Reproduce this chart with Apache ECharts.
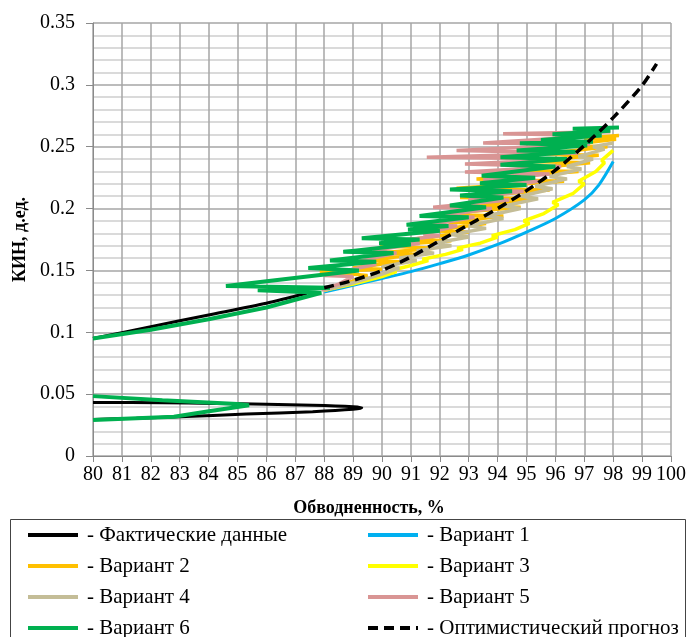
<!DOCTYPE html>
<html>
<head>
<meta charset="utf-8">
<script src="https://cdn.jsdelivr.net/npm/echarts@6/dist/echarts.min.js"></script>
<style>html,body{margin:0;padding:0;background:#fff}#c{width:689px;height:637px}</style>
</head>
<body>
<div id="c"></div>
<script>
// ---- Data ----
const xTicks = [80, 100, 1];            // min, max, step of water cut axis
const yTicks = [0, 0.35, 0.05];         // min, max, step of KIN axis

const actualX = [80, 82.4, 84.2, 86.0, 87.6, 89.0, 89.3, 89.0, 87.6, 85.3, 83.0, 81.5, 80, null, 80, 82, 84, 86, 87.4];
const actualY = [0.0433, 0.043, 0.0425, 0.0418, 0.041, 0.0398, 0.039, 0.0377, 0.0358, 0.0339, 0.0317, 0.0305, 0.0295, null, 0.095, 0.1045, 0.114, 0.1235, 0.1315];

const v1X = [88, 89, 90, 91, 92, 93, 94, 95, 96, 97, 97.5, 98];
const v1Y = [0.1325, 0.138, 0.1435, 0.149, 0.1555, 0.1625, 0.171, 0.181, 0.192, 0.207, 0.219, 0.238];

const v2X = [88.0, 88.6, 89.5, 87.85, 90.0, 89.0, 90.6, 89.5, 91.2, 89.9, 91.8, 89.93, 92.4, 91.0, 93.0, 91.66, 93.6, 92.3, 94.2, 91.9, 94.8, 93.2, 95.3, 92.7, 95.8, 92.58, 96.3, 93.27, 96.8, 94.5, 97.2, 95.0, 97.5, 95.5, 97.8, 96.2, 98.1, 97.0, 98.2];
const v2Y = [0.134, 0.138, 0.146, 0.149, 0.151, 0.152, 0.157, 0.158, 0.163, 0.164, 0.168, 0.170, 0.174, 0.175, 0.181, 0.182, 0.188, 0.189, 0.194, 0.1955, 0.201, 0.202, 0.208, 0.209, 0.215, 0.2165, 0.222, 0.224, 0.230, 0.231, 0.237, 0.238, 0.243, 0.244, 0.250, 0.251, 0.256, 0.257, 0.259];

const v3X = [88, 89, 90, 90.5, 90.3, 91, 91.6, 91.4, 92.2, 92.8, 92.6, 93.4, 94.0, 93.8, 94.6, 95.1, 94.9, 95.6, 96.1, 95.9, 96.6, 97.0, 96.8, 97.4, 97.7, 97.6, 98.0];
const v3Y = [0.134, 0.139, 0.145, 0.149, 0.150, 0.154, 0.158, 0.159, 0.163, 0.167, 0.168, 0.172, 0.177, 0.178, 0.183, 0.188, 0.190, 0.196, 0.203, 0.205, 0.212, 0.220, 0.222, 0.230, 0.237, 0.239, 0.247];

const v4X = [88, 89, 90, 90.6, 90.0, 91.2, 90.6, 91.8, 91.2, 92.4, 91.8, 93.0, 92.4, 93.6, 93.0, 94.2, 93.6, 94.8, 94.2, 95.4, 94.8, 95.9, 95.3, 96.4, 95.8, 96.9, 96.4, 97.3, 96.8, 97.7, 97.3, 98.0];
const v4Y = [0.134, 0.140, 0.147, 0.152, 0.153, 0.158, 0.160, 0.164, 0.166, 0.170, 0.172, 0.177, 0.179, 0.184, 0.186, 0.192, 0.194, 0.200, 0.202, 0.208, 0.210, 0.216, 0.218, 0.224, 0.226, 0.232, 0.234, 0.240, 0.242, 0.248, 0.250, 0.253];

const v5X = [87.9, 88.5, 89.0, 88.0, 89.8, 88.9, 90.5, 89.7, 91.3, 90.2, 92.0, 91.43, 92.6, 91.7, 93.2, 92.0, 93.8, 91.77, 94.4, 93.0, 94.9, 93.3, 95.4, 93.5, 95.8, 92.87, 96.2, 92.87, 96.5, 91.55, 96.8, 92.58, 97.2, 93.5, 97.6, 94.19, 97.9];
const v5Y = [0.134, 0.139, 0.145, 0.146, 0.155, 0.156, 0.164, 0.166, 0.172, 0.173, 0.178, 0.1795, 0.186, 0.187, 0.193, 0.194, 0.200, 0.201, 0.207, 0.208, 0.214, 0.215, 0.222, 0.223, 0.228, 0.2295, 0.234, 0.236, 0.240, 0.2415, 0.245, 0.247, 0.252, 0.253, 0.259, 0.2605, 0.262];

const v6X = [80, 82.4, 85.0, 85.4, 83.9, 82.8, 80, null,
  80, 82, 84, 86, 87.9, 85.7, 88.2, 84.6, 89.2, 87.45, 89.8, 88.2, 90.4, 88.66, 91.0, 89.9, 91.3, 89.3, 92.0, 90.9, 92.3, 90.85, 93.0, 91.3, 93.6, 92.35, 94.2, 92.7, 94.5, 92.35, 95.0, 93.39, 95.3, 93.45, 96.0, 94.1, 96.4, 94.1, 96.7, 94.66, 97.1, 94.77, 97.3, 95.5, 97.6, 95.9, 97.9, 96.6, 98.2];
const v6Y = [0.0484, 0.045, 0.042, 0.041, 0.0357, 0.0317, 0.029, null,
  0.095, 0.102, 0.1105, 0.120, 0.132, 0.134, 0.136, 0.1375, 0.150, 0.152, 0.157, 0.158, 0.164, 0.165, 0.171, 0.172, 0.175, 0.176, 0.182, 0.183, 0.186, 0.187, 0.193, 0.194, 0.201, 0.2025, 0.209, 0.2105, 0.214, 0.2155, 0.219, 0.2205, 0.225, 0.2265, 0.234, 0.2355, 0.240, 0.2415, 0.246, 0.247, 0.251, 0.2527, 0.254, 0.2555, 0.259, 0.260, 0.263, 0.2645, 0.2655];

const optX = [88, 89, 90, 91, 92, 93, 94, 95, 96, 97, 98, 99, 99.5];
const optY = [0.136, 0.142, 0.150, 0.161, 0.174, 0.187, 0.200, 0.2145, 0.231, 0.251, 0.2735, 0.2995, 0.317];

const names = ['Фактические данные', 'Вариант 1', 'Вариант 2', 'Вариант 3', 'Вариант 4', 'Вариант 5', 'Вариант 6', 'Оптимистический прогноз'];
const legendCol1 = [names[0], names[2], names[4], names[6]];
const legendCol2 = [names[1], names[3], names[5], names[7]];

// ---- Build ----
function pairs(xs, ys) {
  return xs.map((x, i) => (x === null ? ['-', '-'] : [x, ys[i]]));
}
const FONT = 'Liberation Serif';

function line(name, xs, ys, color, width, extra) {
  return Object.assign({
    name: name,
    type: 'line',
    data: pairs(xs, ys),
    symbol: 'none',
    connectNulls: false,
    lineStyle: { color: color, width: width },
    itemStyle: { color: color },
    emphasis: { disabled: true },
    animation: false
  }, extra || {});
}

const chart = echarts.init(document.getElementById('c'), null, { renderer: 'canvas' });
const legendBase = {
  orient: 'vertical',
  top: 524,
  height: 130,
  padding: 0,
  itemWidth: 50,
  itemHeight: 14,
  itemGap: 9,
  selectedMode: false,
  formatter: n => '- ' + n,
  itemStyle: { opacity: 0 },
  lineStyle: { width: 4 },
  textStyle: { fontFamily: FONT, fontSize: 21, color: '#000', lineHeight: 22, padding: [0, 0, 0, 4] }
};

chart.setOption({
  backgroundColor: '#fff',
  animation: false,
  grid: { left: 93, right: 18, top: 23, bottom: 181 },
  legend: [
    Object.assign({}, legendBase, { left: 26, data: legendCol1 }),
    Object.assign({}, legendBase, { left: 366, data: legendCol2 })
  ],
  graphic: [{
    type: 'rect',
    left: 8, top: 517,
    shape: { width: 675, height: 130 },
    style: { fill: 'none', stroke: '#444', lineWidth: 1 },
    silent: true
  }],
  xAxis: {
    type: 'value',
    min: xTicks[0], max: xTicks[1], interval: xTicks[2],
    name: 'Обводненность, %',
    nameLocation: 'middle',
    nameGap: 43,
    nameTextStyle: { fontFamily: FONT, fontSize: 18, fontWeight: 'bold', color: '#000', padding: [0, 26, 0, 0] },
    axisLine: { lineStyle: { color: '#8a8a8a', width: 1 } },
    axisTick: { show: true, length: 6, lineStyle: { color: '#8a8a8a' } },
    axisLabel: { fontFamily: FONT, fontSize: 20, color: '#000', margin: 9 },
    splitLine: { show: true, lineStyle: { color: '#a6a6a6', width: 1.5 } }
  },
  yAxis: {
    type: 'value',
    min: yTicks[0], max: yTicks[1], interval: yTicks[2],
    name: 'КИН, д.ед.',
    nameLocation: 'middle',
    nameGap: 61,
    nameRotate: 90,
    nameTextStyle: { fontFamily: FONT, fontSize: 18, fontWeight: 'bold', color: '#000' },
    axisLine: { show: true, lineStyle: { color: '#8a8a8a', width: 1 } },
    axisTick: { show: true, length: 7, lineStyle: { color: '#8a8a8a' } },
    axisLabel: { fontFamily: FONT, fontSize: 20, color: '#000', margin: 18 },
    splitLine: { show: true, lineStyle: { color: '#a6a6a6', width: 1.5 } },
    minorTick: { show: false, splitNumber: 5 },
    minorSplitLine: { show: true, lineStyle: { color: '#dadada', width: 2 } }
  },
  series: [
    line(names[0], actualX, actualY, '#000000', 3, { smooth: 0.25, z: 2 }),
    line(names[1], v1X, v1Y, '#00b0f0', 3, { smooth: 0.3, z: 3 }),
    line(names[2], v2X, v2Y, '#ffc000', 3.5, { z: 4 }),
    line(names[3], v3X, v3Y, '#ffff00', 3.5, { z: 5 }),
    line(names[4], v4X, v4Y, '#c4bd97', 3.5, { z: 6 }),
    line(names[5], v5X, v5Y, '#d99594', 3.5, { z: 7 }),
    line(names[6], v6X, v6Y, '#00b050', 4, { z: 8 }),
    line(names[7], optX, optY, '#000000', 3.5, { smooth: 0.3, z: 9, lineStyle: { color: '#000', width: 3.5, type: [10, 6] } })
  ]
});
</script>
</body>
</html>
